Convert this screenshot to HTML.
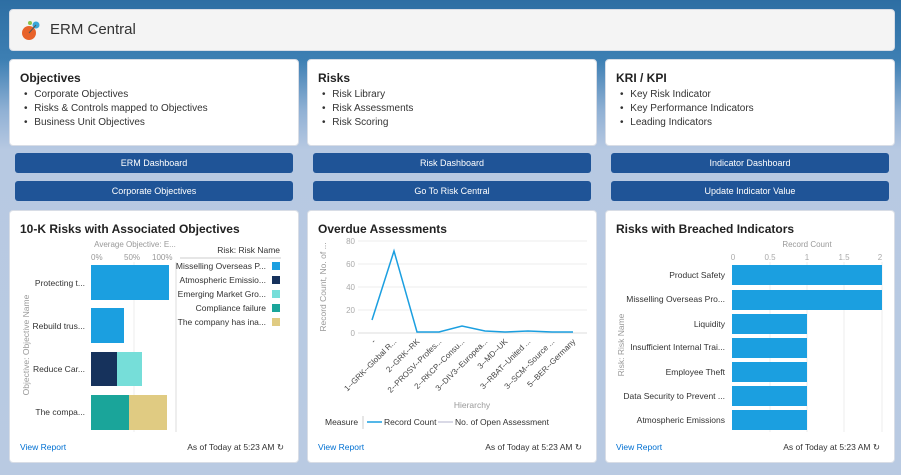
<!DOCTYPE html>
<html><head><meta charset="utf-8"><style>
*{box-sizing:border-box;margin:0;padding:0}
body{width:901px;height:475px;overflow:hidden;font-family:"Liberation Sans",sans-serif;background:linear-gradient(#2d6ea3 0px,#3d7fb3 60px,#8fb0d4 110px,#b7c9e2 150px,#b9cae2 475px);position:relative;color:#16325c}
.card{position:absolute;background:#fff;border-radius:4px;border:1px solid #d8dde6}
.hdr{left:9px;top:9px;width:886px;height:42px;background:#f4f4f4}
.hdr span{position:absolute;left:40px;top:11px;font-size:15px;color:#333}
h2{font-size:12px;font-weight:bold;color:#222;position:absolute;left:10px;top:11px}
ul{position:absolute;left:14px;top:28px;font-size:10px;color:#333;line-height:14px;list-style:none}
ul li:before{content:"• ";margin-right:4px}
.btn{position:absolute;height:20px;width:278px;background:#1f5497;border-radius:3px;color:#fff;font-size:9px;text-align:center;line-height:20px}
.foot{position:absolute;font-size:8.5px;top:231px}
.vr{left:10px;color:#0070d2}
.as{right:14px;color:#333}
</style></head><body>
<div class="card hdr"><svg style="position:absolute;left:10px;top:8px" width="26" height="26"><circle cx="9" cy="15" r="7" fill="#e8622a"/><circle cx="16" cy="7" r="3.5" fill="#3aa7d9"/><circle cx="10" cy="5" r="2" fill="#8bc34a"/><line x1="9" y1="15" x2="16" y2="7" stroke="#555" stroke-width="1"/></svg><span>ERM Central</span></div>

<div class="card" style="left:9px;top:59px;width:290px;height:87px"><h2>Objectives</h2><ul><li>Corporate Objectives</li><li>Risks &amp; Controls mapped to Objectives</li><li>Business Unit Objectives</li></ul></div>
<div class="card" style="left:307px;top:59px;width:290px;height:87px"><h2>Risks</h2><ul><li>Risk Library</li><li>Risk Assessments</li><li>Risk Scoring</li></ul></div>
<div class="card" style="left:605px;top:59px;width:290px;height:87px"><h2>KRI / KPI</h2><ul><li>Key Risk Indicator</li><li>Key Performance Indicators</li><li>Leading Indicators</li></ul></div>

<div class="btn" style="left:15px;top:153px">ERM Dashboard</div>
<div class="btn" style="left:15px;top:181px">Corporate Objectives</div>
<div class="btn" style="left:313px;top:153px">Risk Dashboard</div>
<div class="btn" style="left:313px;top:181px">Go To Risk Central</div>
<div class="btn" style="left:611px;top:153px">Indicator Dashboard</div>
<div class="btn" style="left:611px;top:181px">Update Indicator Value</div>

<div class="card" style="left:9px;top:210px;width:290px;height:253px"><h2>10-K Risks with Associated Objectives</h2><div class="foot vr">View Report</div><div class="foot as">As of Today at 5:23 AM ↻</div></div>
<div class="card" style="left:307px;top:210px;width:290px;height:253px"><h2>Overdue Assessments</h2><div class="foot vr">View Report</div><div class="foot as">As of Today at 5:23 AM ↻</div></div>
<div class="card" style="left:605px;top:210px;width:290px;height:253px"><h2>Risks with Breached Indicators</h2><div class="foot vr">View Report</div><div class="foot as">As of Today at 5:23 AM ↻</div></div>

<svg style="position:absolute;left:0;top:0" width="901" height="475" font-family="Liberation Sans, sans-serif">
<g font-size="8" fill="#999">
<text x="135" y="247" text-anchor="middle">Average Objective: E...</text>
<text x="91" y="260">0%</text><text x="124" y="260">50%</text><text x="152" y="260">100%</text>
</g>
<line x1="134" y1="262" x2="134" y2="432" stroke="#eee"/>
<rect x="91" y="265" width="78" height="35" fill="#1b9fe0"/>
<rect x="91" y="308" width="33" height="35" fill="#1b9fe0"/>
<rect x="91" y="352" width="26" height="34" fill="#16325c"/><rect x="117" y="352" width="25" height="34" fill="#76ded9"/>
<rect x="91" y="395" width="38" height="35" fill="#1aa59a"/><rect x="129" y="395" width="38" height="35" fill="#e0cb82"/>
<g font-size="8.5" fill="#333" text-anchor="end">
<text x="85" y="286">Protecting t...</text><text x="85" y="329">Rebuild trus...</text><text x="85" y="372">Reduce Car...</text><text x="85" y="415">The compa...</text>
<text x="280" y="253">Risk: Risk Name</text>
<text x="266" y="269">Misselling Overseas P...</text><text x="266" y="283">Atmospheric Emissio...</text><text x="266" y="297">Emerging Market Gro...</text><text x="266" y="311">Compliance failure</text><text x="266" y="325">The company has ina...</text>
</g>
<line x1="180" y1="258" x2="281" y2="258" stroke="#ccc"/>
<line x1="176" y1="262" x2="176" y2="432" stroke="#ddd"/>
<rect x="272" y="262" width="8" height="8" fill="#1b9fe0"/><rect x="272" y="276" width="8" height="8" fill="#16325c"/><rect x="272" y="290" width="8" height="8" fill="#76ded9"/><rect x="272" y="304" width="8" height="8" fill="#1aa59a"/><rect x="272" y="318" width="8" height="8" fill="#e0cb82"/>
<text transform="translate(29,345) rotate(-90)" font-size="8.5" fill="#999" text-anchor="middle">Objective: Objective Name</text>

<g stroke="#eee"><line x1="358" y1="241" x2="587" y2="241"/><line x1="358" y1="264" x2="587" y2="264"/><line x1="358" y1="287" x2="587" y2="287"/><line x1="358" y1="310" x2="587" y2="310"/><line x1="358" y1="333" x2="587" y2="333" stroke="#ddd"/></g>
<g font-size="8" fill="#aaa" text-anchor="end"><text x="355" y="244">80</text><text x="355" y="267">60</text><text x="355" y="290">40</text><text x="355" y="313">20</text><text x="355" y="336">0</text></g>
<polyline fill="none" stroke="#1b9fe0" stroke-width="1.5" points="372,320 394,251 417,332 439,332 462,326 485,331 505,332 528,331 552,332 573,332"/>
<g font-size="8" fill="#444" text-anchor="end">
<text transform="translate(376,342) rotate(-45)">-</text>
<text transform="translate(397,342) rotate(-45)">1--GRK--Global R...</text>
<text transform="translate(420,342) rotate(-45)">2--GRK--RK</text>
<text transform="translate(442,342) rotate(-45)">2--PROSV--Profes...</text>
<text transform="translate(465,342) rotate(-45)">2--RKCP--Consu...</text>
<text transform="translate(488,342) rotate(-45)">3--DIV3--Europea...</text>
<text transform="translate(508,342) rotate(-45)">3--MD--UK</text>
<text transform="translate(531,342) rotate(-45)">3--RBAT--United ...</text>
<text transform="translate(555,342) rotate(-45)">3--SCM--Source ...</text>
<text transform="translate(576,342) rotate(-45)">5--BER--Germany</text>
</g>
<text x="472" y="408" font-size="8.5" fill="#999" text-anchor="middle">Hierarchy</text>
<text transform="translate(326,287) rotate(-90)" font-size="8.5" fill="#999" text-anchor="middle">Record Count, No. of ...</text>
<g font-size="8.5" fill="#333"><text x="325" y="425">Measure</text><text x="384" y="425">Record Count</text><text x="455" y="425">No. of Open Assessment</text></g>
<line x1="363" y1="416" x2="363" y2="429" stroke="#ccc"/>
<line x1="367" y1="422" x2="382" y2="422" stroke="#1b9fe0" stroke-width="1.5"/>
<line x1="438" y1="422" x2="453" y2="422" stroke="#ccd" stroke-width="1.5"/>

<text x="807" y="247" font-size="8" fill="#999" text-anchor="middle">Record Count</text>
<g font-size="8" fill="#aaa" text-anchor="middle"><text x="733" y="260">0</text><text x="770" y="260">0.5</text><text x="807" y="260">1</text><text x="844" y="260">1.5</text><text x="880" y="260">2</text></g>
<g stroke="#eee"><line x1="770" y1="262" x2="770" y2="432"/><line x1="807" y1="262" x2="807" y2="432"/><line x1="844" y1="262" x2="844" y2="432"/><line x1="882" y1="262" x2="882" y2="432"/></g>
<g fill="#1b9fe0"><rect x="732" y="265" width="150" height="20"/><rect x="732" y="290" width="150" height="20"/><rect x="732" y="314" width="75" height="20"/><rect x="732" y="338" width="75" height="20"/><rect x="732" y="362" width="75" height="20"/><rect x="732" y="386" width="75" height="20"/><rect x="732" y="410" width="75" height="20"/></g>
<g font-size="8.5" fill="#333" text-anchor="end"><text x="725" y="278">Product Safety</text><text x="725" y="302">Misselling Overseas Pro...</text><text x="725" y="327">Liquidity</text><text x="725" y="350">Insufficient Internal Trai...</text><text x="725" y="375">Employee Theft</text><text x="725" y="399">Data Security to Prevent ...</text><text x="725" y="423">Atmospheric Emissions</text></g>
<text transform="translate(624,345) rotate(-90)" font-size="8.5" fill="#999" text-anchor="middle">Risk: Risk Name</text>
</svg>
</body></html>
